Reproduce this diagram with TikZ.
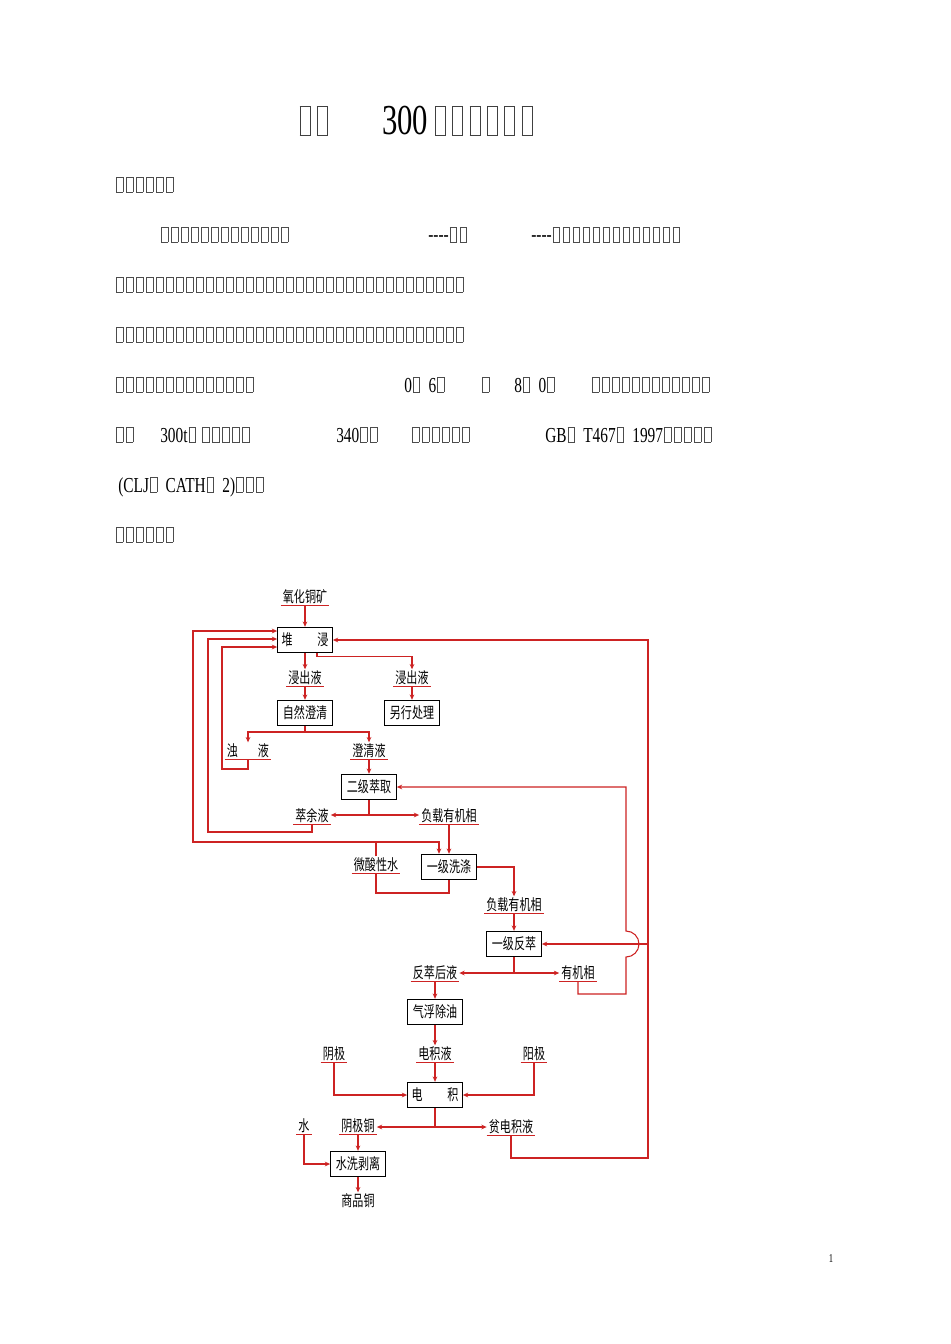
\documentclass[tikz,border=0pt]{standalone}
\usepackage{fontspec}
\setmainfont{Liberation Serif}[FakeStretch=0.72]
\newfontfamily\cjk{Noto Sans CJK SC}[FakeStretch=0.72]
\usetikzlibrary{calc,arrows.meta}
\definecolor{fr}{RGB}{205,35,35}
\newcommand\bx{\makebox[7.5pt][l]{\hspace{0.8pt}\color{black!70}\setlength\fboxsep{0pt}\setlength\fboxrule{0.45pt}\framebox{\rule{0pt}{11pt}\hspace{4.4pt}}}}
\newcommand\tbx{\makebox[13pt][l]{\hspace{1pt}\color{black!75}\setlength\fboxsep{0pt}\setlength\fboxrule{0.6pt}\framebox{\rule{0pt}{21pt}\hspace{7pt}}}}
\newcommand\bxs[1]{\foreach \i in {1,...,#1}{\bx}}
\newcommand\dsh{\mbox{-}\mbox{-}\mbox{-}\mbox{-}}
\tikzset{body/.style={anchor=base west,inner sep=0pt,font=\fontsize{16}{16}\selectfont}}
\tikzset{lbl/.style={font=\cjk\fontsize{11.5}{11.5}\selectfont,inner xsep=1.5pt,inner ysep=1pt}}
\tikzset{pbox/.style={draw,line width=0.8pt,font=\cjk\fontsize{11.5}{11.5}\selectfont,minimum width=41pt,minimum height=19pt,inner sep=1pt}}
\tikzset{fl/.style={draw=fr,line width=0.8pt}}
\tikzset{fa/.style={fl,-{Stealth[length=4pt,width=3.5pt]}}}
\tikzset{fb/.style={fl,{Stealth[length=4pt,width=3.5pt]}-{Stealth[length=4pt,width=3.5pt]}}}
\begin{document}
\begin{tikzpicture}[x=0.75pt,y=-0.75pt]
\useasboundingbox[fill=white] (0,0) rectangle (950,1344);
\node[anchor=base west,inner sep=0pt,font=\fontsize{32}{32}\selectfont] (title) at (298,135) {\tbx\tbx\hspace{37pt}300\hspace{4pt}\tbx\tbx\tbx\tbx\tbx\tbx};
\node[body] (p1) at (115,192) {\bxs{6}};
\node[body] (p2a) at (160,242) {\bxs{13}};
\node[body] (p2b) at (428,242) {\dsh\bx\bx};
\node[body] (p2c) at (531,242) {\dsh\bxs{13}};
\node[body] (p3) at (115,292) {\bxs{35}};
\node[body] (p4) at (115,342) {\bxs{35}};
\node[body] (p5a) at (115,392) {\bxs{14}};
\node[body] (p5b) at (404,392) {0\bx\hspace{5pt}6\bx};
\node[body] (p5c) at (481,392) {\bx};
\node[body] (p5d) at (514,392) {8\bx\hspace{5pt}0\bx};
\node[body] (p5e) at (591,392) {\bxs{12}};
\node[body] (p6a) at (115,442) {\bx\bx};
\node[body] (p6b) at (160,442) {300t\bx\ \bxs{5}};
\node[body] (p6c) at (336,442) {340\bx\bx};
\node[body] (p6d) at (411,442) {\bxs{6}};
\node[body] (p6e) at (545,442) {GB\bx\hspace{5pt}T467\bx\hspace{5pt}1997\bxs{5}};
\node[body] (p7) at (118,492) {(CLJ\bx\hspace{5pt}CATH\bx\hspace{5pt}2)\bx\bx\bx};
\node[body] (p8) at (115,542) {\bxs{6}};
\node[anchor=base,inner sep=0pt,font=\fontsize{9}{9}\selectfont] (pg) at (831,1262) {1};
\node[lbl] (ore) at (305,597) {氧化铜矿};
\node[pbox] (heap) at (305,640) {堆\hspace{1.6em}浸};
\node[lbl] (lq1) at (305,678) {浸出液};
\node[lbl] (lq2) at (412,678) {浸出液};
\node[pbox] (clar) at (305,713) {自然澄清};
\node[pbox] (other) at (412,713) {另行处理};
\node[lbl] (mud) at (248,751) {浊\hspace{1.3em}液};
\node[lbl] (clr) at (369,751) {澄清液};
\node[pbox] (ext) at (369,787) {二级萃取};
\node[lbl] (raf) at (312,816) {萃余液};
\node[lbl] (lo1) at (449,816) {负载有机相};
\node[lbl] (acid) at (376,865) {微酸性水};
\node[pbox] (wash) at (449,867) {一级洗涤};
\node[lbl] (lo2) at (514,905) {负载有机相};
\node[pbox] (strip) at (514,944) {一级反萃};
\node[lbl] (aft) at (435,973) {反萃后液};
\node[lbl] (org) at (578,973) {有机相};
\node[pbox] (flot) at (435,1012) {气浮除油};
\node[lbl] (ew) at (435,1054) {电积液};
\node[lbl] (cat) at (334,1054) {阴极};
\node[lbl] (ano) at (534,1054) {阳极};
\node[pbox] (cell) at (435,1095) {电\hspace{1.6em}积};
\node[lbl] (water) at (304,1126) {水};
\node[lbl] (cu) at (358,1126) {阴极铜};
\node[lbl] (lean) at (511,1127) {贫电积液};
\node[pbox] (strp) at (358,1164) {水洗剥离};
\node[lbl] (prod) at (358,1201) {商品铜};
\foreach \n in {ore,lq1,lq2,mud,clr,raf,lo1,acid,lo2,aft,org,ew,cat,ano,water,cu,lean} {\draw[fl] (\n.south west) -- (\n.south east);}
\coordinate (r1) at (648,1158);
\coordinate (r2) at (648,944);
\coordinate (jx) at (369,815);
\coordinate (jc) at (305,732);
\coordinate (js) at (514,973);
\coordinate (je) at (435,1127);
\coordinate (jw) at (376,842);
\draw[fa] (ore.south) -- (heap.north);
\draw[fa] (heap.south) -- (lq1.north);
\draw[fa] ($(heap.south)+(12,0)$) -- ++(0,3) -| (lq2.north);
\draw[fa] (lq1.south) -- (clar.north);
\draw[fa] (lq2.south) -- (other.north);
\draw[fl] (clar.south) -- (jc);
\draw[fa] (jc) -| (mud.north);
\draw[fa] (jc) -| (clr.north);
\draw[fa] (mud.south) |- (222,769) |- ($(heap.west)+(0,7)$);
\draw[fa] (clr.south) -- (ext.north);
\draw[fl] (ext.south) -- (jx);
\draw[fa] (jx) -- (jx -| raf.east);
\draw[fa] (jx) -- (jx -| lo1.west);
\draw[fa] (raf.south) |- (208,832) |- ($(heap.west)+(0,-1)$);
\draw[fb] ($(heap.west)+(0,-9)$) -| (193,842) -| ($(wash.north)+(-10,0)$);
\draw[fl] (acid.north) -- (jw);
\draw[fa] (lo1.south) -- (wash.north);
\draw[fl] (acid.south) |- (449,893) -- (wash.south);
\draw[fa] (wash.east) -| (lo2.north);
\draw[fa] (lo2.south) -- (strip.north);
\draw[fa] (r2) -- (strip.east);
\draw[fa] (org.south) |- (626,994) -- (626,957) arc[start angle=-90,end angle=90,radius=9.75pt] -- (626,787) -- (ext.east);
\draw[fl] (strip.south) -- (js);
\draw[fa] (js) -- (js -| aft.east);
\draw[fa] (js) -- (js -| org.west);
\draw[fa] (aft.south) -- (flot.north);
\draw[fa] (flot.south) -- (ew.north);
\draw[fa] (ew.south) -- (cell.north);
\draw[fa] (cat.south) |- (cell.west);
\draw[fa] (ano.south) |- (cell.east);
\draw[fl] (cell.south) -- (je);
\draw[fa] (je) -- (je -| cu.east);
\draw[fa] (je) -- (je -| lean.west);
\draw[fa] (lean.south) |- (r1) |- (heap.east);
\draw[fa] (cu.south) -- (strp.north);
\draw[fa] (water.south) |- (strp.west);
\draw[fa] (strp.south) -- (prod.north);
\end{tikzpicture}
\end{document}
